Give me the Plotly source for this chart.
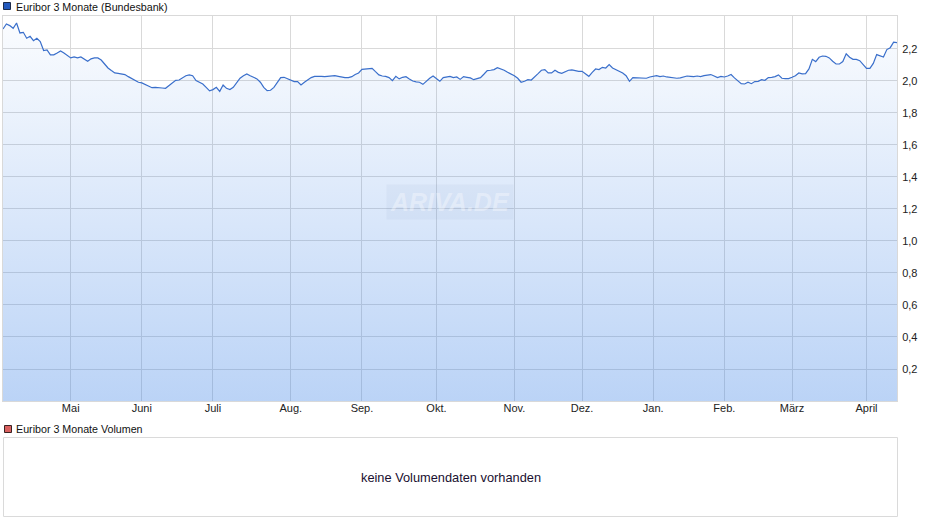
import pandas as pd
import plotly.graph_objects as go

# ---------------- data ----------------
series_name = "Euribor 3 Monate (Bundesbank)"
volume_name = "Euribor 3 Monate Volumen"
no_volume_text = "keine Volumendaten vorhanden"
watermark_text = "ARIVA.DE"

start_date = "2025-04-01"
end_date = "2026-04-16"
target_holidays = ["2025-04-18", "2025-04-21", "2025-05-01", "2025-12-25",
                   "2025-12-26", "2026-01-01", "2026-04-03", "2026-04-06"]

month_labels = ["Mai", "Juni", "Juli", "Aug.", "Sep.", "Okt.", "Nov.",
                "Dez.", "Jan.", "Feb.", "März", "April"]

y_tick_values = [0.2, 0.4, 0.6, 0.8, 1.0, 1.2, 1.4, 1.6, 1.8, 2.0, 2.2]

# Euribor 3M (%) per trading day
rates_apr_jun_2025 = [
    2.325, 2.356, 2.346, 2.329, 2.362, 2.300, 2.304, 2.267, 2.279, 2.252,
    2.267, 2.246, 2.190, 2.194, 2.163, 2.163, 2.175, 2.188, 2.175, 2.158,
    2.144, 2.150, 2.144, 2.150, 2.138, 2.123, 2.138, 2.144, 2.144, 2.131,
    2.106, 2.081, 2.065, 2.050, 2.048, 2.044, 2.040, 2.027, 2.017, 2.002,
    1.992, 1.988, 1.977, 1.967, 1.958, 1.960, 1.960, 1.956, 1.954, 1.971,
    1.992, 2.004, 2.006]
rates_jun_aug_2025 = [
    2.021, 2.033, 2.038, 2.033, 2.002, 1.992, 1.981, 1.960, 1.938, 1.946,
    1.960, 1.935, 1.975, 1.954, 1.946, 1.960, 1.992, 2.017, 2.033, 2.044,
    2.033, 2.023, 2.013, 1.992, 1.960, 1.940, 1.942, 1.960, 1.992, 2.021,
    2.023, 2.013, 2.002, 1.996, 1.996, 1.975, 1.992, 2.008, 2.021, 2.029,
    2.031, 2.029, 2.027, 2.029, 2.031, 2.033, 2.029, 2.023, 2.021, 2.021,
    2.027, 2.040, 2.050]
rates_sep_nov_2025 = [
    2.073, 2.075, 2.077, 2.079, 2.058, 2.038, 2.031, 2.029, 2.021, 2.002,
    2.029, 2.013, 2.023, 2.027, 2.013, 2.000, 1.994, 1.992, 1.979, 2.000,
    2.017, 2.031, 2.017, 1.998, 2.021, 2.025, 2.029, 2.021, 2.025, 2.010,
    2.027, 2.023, 2.019, 2.008, 2.013, 2.021, 2.042, 2.065, 2.067, 2.071,
    2.083, 2.075, 2.067, 2.054, 2.044, 2.033, 2.017, 1.992, 1.998, 2.008,
    2.006, 2.029, 2.046]
rates_nov_jan_2026 = [
    2.067, 2.071, 2.050, 2.050, 2.067, 2.054, 2.048, 2.058, 2.067, 2.069,
    2.063, 2.060, 2.060, 2.046, 2.029, 2.054, 2.075, 2.071, 2.085, 2.081,
    2.102, 2.081, 2.071, 2.058, 2.050, 2.033, 1.998, 2.021, 2.019, 2.019,
    2.019, 2.017, 2.025, 2.027, 2.033, 2.027, 2.031, 2.025, 2.021, 2.019,
    2.017, 2.019, 2.025, 2.031, 2.029, 2.027, 2.031, 2.027, 2.033, 2.038,
    2.040, 2.031, 2.021]
rates_feb_apr_2026 = [
    2.029, 2.025, 2.031, 2.040, 2.019, 2.002, 1.983, 1.981, 1.992, 1.983,
    1.996, 1.998, 2.008, 2.004, 2.021, 2.023, 2.027, 2.038, 2.017, 2.015,
    2.015, 2.023, 2.033, 2.050, 2.044, 2.046, 2.075, 2.135, 2.121, 2.148,
    2.156, 2.154, 2.144, 2.123, 2.106, 2.106, 2.121, 2.170, 2.148, 2.135,
    2.135, 2.127, 2.106, 2.079, 2.079, 2.110, 2.165, 2.158, 2.150, 2.196,
    2.208, 2.242, 2.240]

rates = (rates_apr_jun_2025 + rates_jun_aug_2025 + rates_sep_nov_2025
         + rates_nov_jan_2026 + rates_feb_apr_2026)

# trading-day calendar (x categories)
dates = [d for d in pd.bdate_range(start_date, end_date)
         if d.strftime("%Y-%m-%d") not in target_holidays]
dates = dates[:len(rates)]

# first trading day of each month (month gridlines / labels)
first_days = []
seen = set()
for d in dates:
    key = (d.year, d.month)
    if key not in seen:
        seen.add(key)
        first_days.append(d)
tick_dates = first_days[1:1 + len(month_labels)]

# ---------------- layout helpers ----------------
W, H = 940, 526
ML, MR, MT, MB = 3, 43, 16, 9
PW, PH = W - ML - MR, H - MT - MB


def px(x):
    return (x - ML) / PW


def py(y):
    return (H - MB - y) / PH


top_domain = [py(401), 1.0]

FONT = "Liberation Sans, Arial, sans-serif"

fig = go.Figure()
fig.add_trace(go.Scatter(
    x=dates, y=rates, mode="lines",
    line=dict(color="#3a6fcb", width=1.2),
    fill="tozeroy",
    fillgradient=dict(type="vertical",
                      colorscale=[[0, "rgba(60,130,230,0.35)"],
                                  [1, "rgba(60,130,230,0.02)"]],
                      start=0, stop=2.4),
    showlegend=False, hoverinfo="skip",
))

grid = "#d9d9d9"
fig.update_layout(
    width=W, height=H,
    margin=dict(l=ML, r=MR, t=MT, b=MB, pad=0),
    paper_bgcolor="white", plot_bgcolor="white",
    separators=",.",
    font=dict(family=FONT, size=11, color="#222222"),
    xaxis=dict(
        type="date",
        range=[dates[0], dates[-1]],
        rangebreaks=[dict(bounds=["sat", "mon"]),
                     dict(values=target_holidays)],
        tickvals=tick_dates, ticktext=month_labels,
        showgrid=True, gridcolor=grid, gridwidth=1,
        showline=True, mirror=True, linecolor=grid, linewidth=1,
        ticks="", zeroline=False, ticklabelstandoff=-3,
        tickfont=dict(size=11, color="#222222"),
    ),
    yaxis=dict(
        domain=top_domain,
        range=[0, 2.406], side="right",
        tickvals=y_tick_values, tickformat=".1f",
        showgrid=True, gridcolor=grid, gridwidth=1,
        showline=True, mirror=True, linecolor=grid, linewidth=1,
        ticks="", zeroline=False, ticklabelstandoff=2,
        tickfont=dict(size=11, color="#222222"),
    ),
)

shapes = []
annotations = []

# legend for price series
shapes.append(dict(type="rect", xref="paper", yref="paper",
                   x0=px(3.5), x1=px(10.5), y0=py(9.5), y1=py(2.5),
                   fillcolor="#2359bd", line=dict(color="#1c2b4a", width=1)))
annotations.append(dict(xref="paper", yref="paper", x=px(14), y=py(6.5),
                        xanchor="left", yanchor="middle", showarrow=False,
                        text=series_name,
                        font=dict(size=10.7, color="#111111", family=FONT)))

# legend for volume panel
shapes.append(dict(type="rect", xref="paper", yref="paper",
                   x0=px(4.5), x1=px(11.5), y0=py(432.5), y1=py(425.5),
                   fillcolor="#d9605f", line=dict(color="#3a2222", width=1)))
annotations.append(dict(xref="paper", yref="paper", x=px(14), y=py(429),
                        xanchor="left", yanchor="middle", showarrow=False,
                        text=volume_name,
                        font=dict(size=10.7, color="#111111", family=FONT)))

# volume panel box + message
shapes.append(dict(type="rect", xref="paper", yref="paper",
                   x0=px(3.5), x1=px(897.5), y0=py(516.5), y1=py(437.5),
                   fillcolor="rgba(0,0,0,0)", line=dict(color="#dadada", width=1)))
annotations.append(dict(xref="paper", yref="paper", x=px(451), y=py(477),
                        xanchor="center", yanchor="middle", showarrow=False,
                        text=no_volume_text,
                        font=dict(size=12.8, color="#1a1030", family=FONT)))

# watermark
annotations.append(dict(xref="paper", yref="paper", x=px(450), y=py(202),
                        xanchor="center", yanchor="middle", showarrow=False,
                        text="<b><i>" + watermark_text + "</i></b>",
                        bgcolor="rgba(110,140,190,0.07)", borderpad=3,
                        font=dict(size=25, color="rgba(255,255,255,0.35)",
                                  family=FONT)))

fig.update_layout(shapes=shapes, annotations=annotations)

fig.write_html("out.html",
               config={"displayModeBar": False},
               post_script="document.body.style.margin='0';"
                           "document.body.style.padding='0';")
